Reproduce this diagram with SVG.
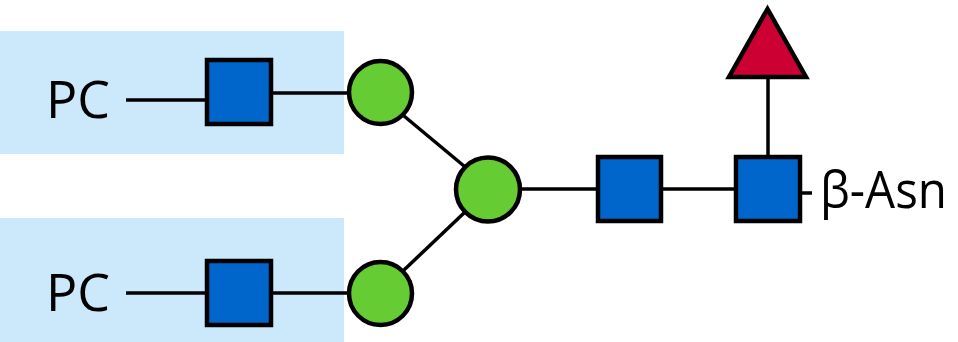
<svg xmlns="http://www.w3.org/2000/svg" width="958" height="342" viewBox="0 0 958 342">
<style>
.bg{fill:#CCE8FB;stroke:none}
.sq{fill:#0066CC;stroke:#000;stroke-width:4.5}
.ci{fill:#66CC33;stroke:#000;stroke-width:4.5}
.tr{fill:#CC0033;stroke:#000;stroke-width:4.5;stroke-linejoin:miter}
.ln{stroke:#000;stroke-width:3.5;fill:none}
.lbl{font-family:"Open Sans","Noto Sans","DejaVu Sans",sans-serif;font-size:52px;fill:#000}
</style>
<rect width="958" height="342" fill="#fff"/>
<g id="box1"><rect class="bg" x="0" y="31" width="344" height="123"/></g>
<g id="box2"><rect class="bg" x="0" y="218" width="344" height="124"/></g>
<g id="connectors">
<line class="ln" x1="126" y1="100" x2="207" y2="100"/>
<line class="ln" x1="271" y1="93" x2="349" y2="93"/>
<line class="ln" x1="126" y1="293" x2="207" y2="293"/>
<line class="ln" x1="271" y1="293" x2="349" y2="293"/>
<line class="ln" x1="404" y1="116" x2="464" y2="166"/>
<line class="ln" x1="404" y1="270" x2="464" y2="213"/>
<line class="ln" x1="520" y1="189" x2="598" y2="189"/>
<line class="ln" x1="661" y1="189" x2="736" y2="189"/>
<line class="ln" x1="768" y1="79" x2="768" y2="157"/>
<line class="ln" x1="800" y1="193" x2="812" y2="193"/>
</g>
<g id="pc1"><text class="lbl" x="46" y="118">PC</text></g>
<g id="pc2"><text class="lbl" x="46" y="311">PC</text></g>
<g id="sq1"><rect class="sq" x="207" y="60" width="64" height="64"/></g>
<g id="sq2"><rect class="sq" x="207" y="261" width="64" height="64"/></g>
<g id="c1"><circle class="ci" cx="380.5" cy="92.5" r="31.5"/></g>
<g id="c2"><circle class="ci" cx="380.5" cy="293.5" r="31.5"/></g>
<g id="c3"><circle class="ci" cx="488" cy="189.5" r="32"/></g>
<g id="sq3"><rect class="sq" x="598" y="157" width="63" height="64"/></g>
<g id="sq4"><rect class="sq" x="736" y="157" width="64" height="64"/></g>
<g id="tri"><polygon class="tr" points="767.5,9 729,77 806,77"/></g>
<g id="asn"><text class="lbl" x="820" y="208" textLength="127" lengthAdjust="spacingAndGlyphs">β-Asn</text></g>
</svg>
